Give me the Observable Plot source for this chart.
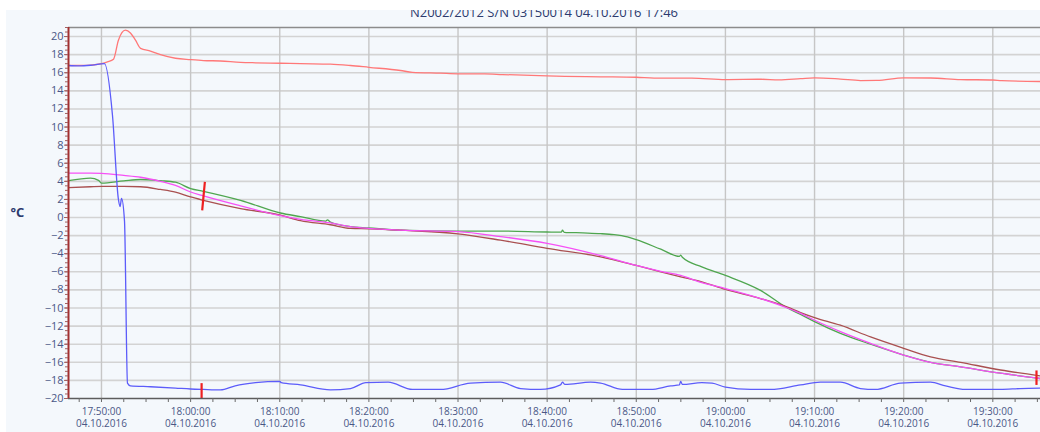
<!DOCTYPE html>
<html>
<head>
<meta charset="utf-8">
<script src="https://cdn.jsdelivr.net/npm/d3@7"></script>
<script src="https://cdn.jsdelivr.net/npm/@observablehq/plot@0.6"></script>
<style>
  body { margin: 0; background: #ffffff; font-family: "Open Sans", sans-serif; }
  #panel { margin: 10px 0 0 6px; width: 1034px; height: 422px; background: #f4f8fc; overflow: hidden; }
  #title { position: relative; height: 17px; overflow: visible; }
  #title span { position: absolute; left: 42px; right: 0; top: -4px; text-align: center;
    font-size: 13px; line-height: 13px; color: #2c3a6e; white-space: nowrap; }
  svg { display: block; }
</style>
</head>
<body>
<div id="panel">
  <div id="title"><span>N2002/2012 S/N 03150014 04.10.2016 17:46</span></div>
  <div id="chart"></div>
</div>
<script>
const day = "2016-10-04";
const parse = d3.utcParse("%Y-%m-%d %H:%M:%S");
const T = s => parse(day + " " + s);

// Axis ticks
const yTicks = [-20, -18, -16, -14, -12, -10, -8, -6, -4, -2, 0, 2, 4, 6, 8, 10, 12, 14, 16, 18, 20];
const xTicks = ["17:50:00", "18:00:00", "18:10:00", "18:20:00", "18:30:00", "18:40:00", "18:50:00",
                "19:00:00", "19:10:00", "19:20:00", "19:30:00"];
const xStart = "17:46:18", xEnd = "19:35:21";

// Sensor 1 (red)
const redTime = ["17:46:18","17:48:46","17:50:00","17:50:40","17:51:21","17:51:54","17:52:41","17:53:15","17:53:49",
  "17:54:23","17:55:30","17:56:37","17:58:18","18:00:00","18:01:26","18:03:21","18:05:36","18:07:17","18:10:05",
  "18:12:20","18:15:41","18:17:56","18:20:00","18:23:33","18:24:53","18:28:02","18:30:00","18:33:00","18:35:00",
  "18:40:00","18:42:00","18:46:00","18:50:00","18:52:00","18:56:14","19:00:00","19:04:00","19:06:00","19:08:26",
  "19:10:00","19:12:54","19:15:09","19:17:00","19:20:00","19:23:01","19:26:23","19:30:00","19:31:00","19:35:21"];
const redVal = [16.8,16.85,17.0,17.2,17.5,19.6,20.7,20.4,19.6,
  18.7,18.4,18.0,17.6,17.45,17.35,17.3,17.15,17.1,17.05,
  17.0,16.95,16.8,16.6,16.25,16.05,15.95,15.88,15.87,15.8,
  15.65,15.6,15.55,15.5,15.4,15.4,15.25,15.28,15.22,15.35,
  15.44,15.3,15.14,15.15,15.44,15.42,15.25,15.2,15.12,15.03];

// Sensor 2 (blue)
const blueTime = ["17:46:18","17:47:30","17:49:00","17:50:20","17:51:14","17:51:54","17:52:05","17:52:15","17:52:35",
  "17:52:55","17:53:15","17:55:30","17:58:18","18:00:00","18:01:26","18:03:21","18:05:00","18:07:17","18:10:00",
  "18:10:10","18:12:20","18:15:41","18:17:56","18:19:40","18:22:10","18:24:53","18:28:02","18:31:24","18:34:46",
  "18:37:01","18:39:15","18:41:30","18:41:43","18:42:00","18:44:52","18:46:00","18:48:27","18:51:37","18:53:52",
  "18:54:50","18:54:59","18:55:10","18:57:21","18:58:30","19:00:00","19:02:49","19:05:04","19:08:26","19:10:39",
  "19:12:54","19:15:09","19:16:50","19:19:38","19:23:01","19:24:42","19:26:56","19:30:52","19:33:06","19:35:21"];
const blueVal = [16.8,16.75,16.85,17.0,11.3,2.0,1.2,2.1,-0.4,
  -18.3,-18.6,-18.7,-18.85,-18.95,-19.0,-19.05,-18.6,-18.25,-18.1,
  -18.25,-18.5,-19.05,-18.9,-18.25,-18.2,-19.0,-19.0,-18.3,-18.2,
  -18.9,-19.0,-18.5,-18.2,-18.45,-18.2,-18.3,-19.0,-19.0,-18.6,
  -18.5,-18.1,-18.45,-18.25,-18.3,-18.75,-19.0,-19.0,-18.5,-18.2,
  -18.2,-18.9,-19.0,-18.3,-18.2,-18.6,-19.0,-19.0,-18.9,-18.85];

// Probe (magenta)
const magentaTime = ["17:46:18","17:48:46","17:50:00","17:52:30","17:54:23","17:56:37","17:58:18","18:00:00",
  "18:01:26","18:05:36","18:10:05","18:12:20","18:15:41","18:17:56","18:20:00","18:23:33","18:30:00","18:34:46",
  "18:40:00","18:46:00","18:50:00","18:52:45","18:54:59","18:57:21","19:00:00","19:03:56","19:06:58",
  "19:08:26","19:10:00","19:12:54","19:16:17","19:20:00","19:23:01","19:26:23","19:30:52","19:35:21"];
const magentaVal = [4.9,4.9,4.87,4.65,4.45,4.0,3.55,2.82,
  2.4,1.3,0.2,-0.2,-0.6,-1.0,-1.2,-1.4,-1.55,-2.1,
  -2.85,-4.2,-5.3,-5.95,-6.4,-7.2,-7.85,-8.95,-10.0,
  -10.6,-11.35,-12.6,-13.9,-15.2,-16.0,-16.5,-17.2,-17.8];

// Probe (green)
const greenTime = ["17:46:18","17:48:46","17:49:40","17:50:00","17:52:30","17:54:23","17:56:37","17:58:18","18:00:00",
  "18:01:26","18:05:36","18:10:05","18:12:20","18:15:10","18:15:21","18:15:41","18:17:56","18:20:00","18:23:33",
  "18:30:00","18:34:46","18:40:00","18:41:35","18:41:43","18:41:55","18:44:00","18:46:00","18:47:30","18:49:00",
  "18:50:00","18:52:45","18:54:50","18:54:59","18:55:10","18:57:21","19:00:00","19:03:56","19:06:58",
  "19:08:26","19:10:00","19:12:54","19:16:17","19:20:00","19:23:01","19:26:23","19:30:52","19:35:21"];
const greenVal = [4.07,4.36,4.1,3.8,4.05,4.2,4.07,3.9,3.2,
  2.9,1.9,0.5,0.1,-0.4,-0.25,-0.5,-1.0,-1.15,-1.4,
  -1.5,-1.5,-1.6,-1.62,-1.4,-1.63,-1.7,-1.78,-1.9,-2.15,
  -2.45,-3.5,-4.3,-4.15,-4.4,-5.45,-6.4,-8.05,-10.0,
  -10.7,-11.5,-12.8,-14.0,-15.2,-16.0,-16.5,-17.2,-17.8];

// Probe (brown)
const brownTime = ["17:46:18","17:48:46","17:50:00","17:52:30","17:54:23","17:56:37","17:58:18","18:00:00",
  "18:01:26","18:05:36","18:10:05","18:12:20","18:15:41","18:17:56","18:20:00","18:23:33","18:30:00","18:34:46",
  "18:40:00","18:46:00","18:50:00","18:52:45","18:54:59","18:57:21","19:00:00","19:03:56","19:06:58",
  "19:08:26","19:10:00","19:12:54","19:16:17","19:20:00","19:23:01","19:26:23","19:30:52","19:35:21"];
const brownVal = [3.3,3.4,3.44,3.44,3.4,3.1,2.8,2.27,
  1.9,0.99,0.26,-0.35,-0.8,-1.2,-1.25,-1.4,-1.8,-2.5,
  -3.4,-4.35,-5.3,-6.0,-6.55,-7.1,-7.95,-8.95,-9.9,
  -10.5,-11.05,-11.9,-13.2,-14.45,-15.4,-16.0,-16.85,-17.5];

// Cursor markers (red)
const markerT1 = ["18:01:36", "18:01:14", "19:34:54"];
const markerT2 = ["18:01:18", "18:01:14", "19:34:54"];
const markerV1 = [3.95, -18.3, -16.9];
const markerV2 = [0.8, -20.0, -18.5];

const series = [
  {name: "S1", time: redTime, val: redVal, color: "#ff7878"},
  {name: "S3", time: greenTime, val: greenVal, color: "#4fa64f"},
  {name: "S4", time: brownTime, val: brownVal, color: "#a95050"},
  {name: "S5", time: magentaTime, val: magentaVal, color: "#f650f6"},
  {name: "S2", time: blueTime, val: blueVal, color: "#5c5cfa"}
];
const rows = series.flatMap(s => s.time.map((t, i) => ({name: s.name, t: T(t), v: s.val[i]})));
const markers = markerT1.map((t, i) => ({t1: T(t), t2: T(markerT2[i]), v1: markerV1[i], v2: markerV2[i]}));

const xTickDates = xTicks.map(T);
const x0 = T(xStart), x1 = T(xEnd);
const minorX = d3.range(+T("17:47:30"), +x1, 150000).map(d => new Date(d));
const minorY = d3.range(-20, 21.01, 0.5);
const fmtTime = d3.utcFormat("%H:%M:%S"), fmtDate = d3.utcFormat("%d.%m.%Y");

const chart = Plot.plot({
  width: 1034, height: 405,
  marginLeft: 62, marginRight: 0, marginTop: 0, marginBottom: 34,
  style: {background: "transparent", fontFamily: "'Open Sans', sans-serif", overflow: "visible"},
  x: {type: "utc", domain: [x0, x1]},
  y: {domain: [-20, 21]},
  color: {type: "ordinal", domain: series.map(s => s.name), range: series.map(s => s.color)},
  marks: [
    Plot.gridY(yTicks.filter(d => d > -20), {stroke: "#d3d3d3", strokeOpacity: 1, strokeWidth: 1.6}),
    Plot.gridX(xTickDates, {stroke: "#c6c6c6", strokeOpacity: 1, strokeWidth: 1.4}),
    Plot.ruleY([21], {stroke: "#8c8c8c", strokeWidth: 1.5}),
    Plot.line(rows, {x: "t", y: "v", z: "name", stroke: "name", strokeWidth: 1.3, curve: "monotone-x"}),
    Plot.link(markers, {x1: "t1", x2: "t2", y1: "v1", y2: "v2", stroke: "#ee2020", strokeWidth: 2.2}),
    Plot.ruleY([-20], {stroke: "#5c5c5c", strokeWidth: 1.6}),
    Plot.ruleX([x0], {stroke: "#a33030", strokeWidth: 2}),
    Plot.axisY(minorY, {tickSize: 3, tickFormat: () => "", stroke: "#a36060", label: null}),
    Plot.axisY(yTicks, {tickSize: 4, tickPadding: 1, fontSize: 11, fill: "#4a5786", stroke: "#a36060", label: null}),
    Plot.axisX(minorX, {tickSize: 4, tickFormat: () => "", stroke: "#6a6a6a", label: null}),
    Plot.axisX(xTickDates, {tickSize: 0, tickPadding: 8, fontSize: 10, lineHeight: 1.2, fill: "#4a5786",
      tickFormat: d => fmtTime(d) + "\n" + fmtDate(d), label: null}),
    Plot.text(["°C"], {frameAnchor: "left", dx: -58, textAnchor: "start", fontSize: 13, fontWeight: "bold", fill: "#2c3a6e"})
  ]
});
document.getElementById("chart").appendChild(chart);
</script>
</body>
</html>
